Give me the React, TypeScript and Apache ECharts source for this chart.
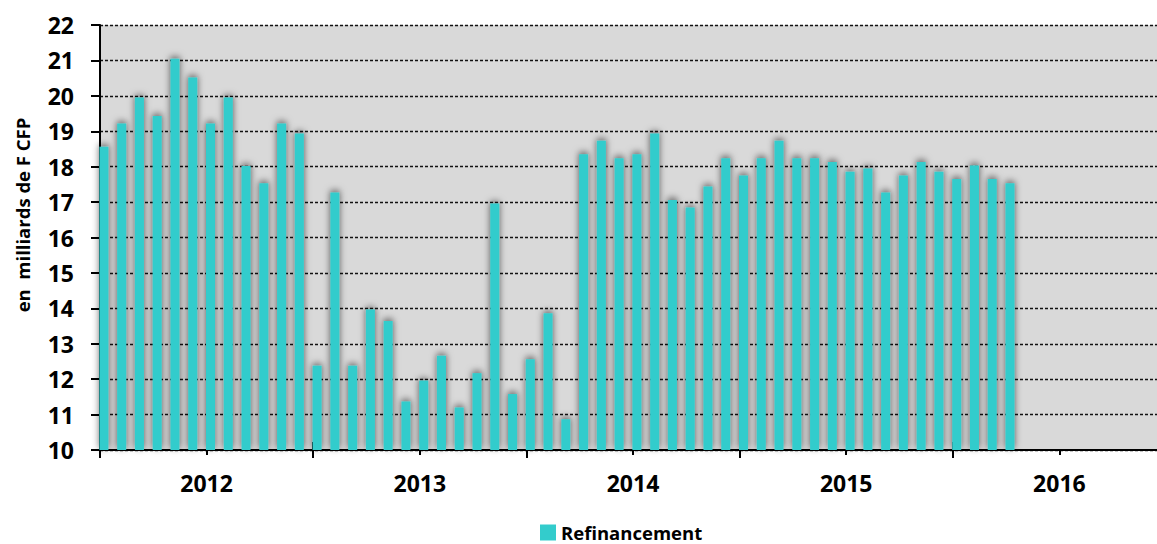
import React, { useEffect, useRef } from "react";
import * as echarts from "echarts";

const years = ["2012", "2013", "2014", "2015", "2016"];
const yTicks = { min: 10, max: 22, interval: 1 };
const seriesName = "Refinancement";
const yAxisTitle = "en  milliards de F CFP";

const refin2012 = [18.56, 19.22, 19.95, 19.43, 21.05, 20.52, 19.22, 19.95, 18.02, 17.53, 19.22, 18.94];
const refin2013 = [12.38, 17.27, 12.38, 13.97, 13.64, 11.37, 11.96, 12.66, 11.2, 12.17, 16.96, 11.58];
const refin2014 = [12.56, 13.86, 10.87, 18.35, 18.73, 18.24, 18.35, 18.94, 17.06, 16.85, 17.44, 18.24];
const refin2015 = [17.75, 18.24, 18.73, 18.24, 18.24, 18.13, 17.86, 17.95, 17.27, 17.75, 18.13, 17.86];
const refin2016 = [17.65, 18.03, 17.65, 17.53];

const FONT = "'Open Sans', 'DejaVu Sans', sans-serif";

export default function App() {
  const ref = useRef<HTMLDivElement>(null);
  useEffect(() => {
    document.body.style.margin = "0";
    document.body.style.overflow = "hidden";
    if (!ref.current) return;
    const chart = echarts.init(ref.current, null, { renderer: "svg" });
    const all = [...refin2012, ...refin2013, ...refin2014, ...refin2015, ...refin2016];
    const monthsTotal = years.length * 12;
    const barData = all.map((v, i) => [i + 0.22, v]);
    const hiddenVal = {
      type: "value" as const,
      min: 0,
      max: monthsTotal,
      position: "bottom" as const,
      axisLabel: { show: false },
      splitLine: { show: false },
    };
    chart.setOption({
      animation: false,
      grid: {
        left: 100,
        right: 0,
        top: 25,
        bottom: 94,
        show: true,
        backgroundColor: "#d9d9d9",
        borderWidth: 0,
      },
      legend: {
        data: [seriesName],
        left: 540,
        top: 523,
        padding: 0,
        itemWidth: 16,
        itemHeight: 16,
        icon: "rect",
        textStyle: { fontFamily: FONT, fontWeight: "bold", fontSize: 18.5, lineHeight: 18, color: "#000" },
      },
      xAxis: [
        {
          ...hiddenVal,
          interval: 6,
          axisLine: { show: true, lineStyle: { color: "#000", width: 2 } },
          axisTick: { show: true, length: 5, lineStyle: { color: "#000", width: 2 } },
        },
        {
          ...hiddenVal,
          interval: 12,
          axisLine: { show: false },
          axisTick: { show: true, length: 8, lineStyle: { color: "#000", width: 2 } },
        },
        {
          ...hiddenVal,
          interval: 12,
          axisLine: { show: false },
          axisTick: { show: true, inside: true, length: 8, lineStyle: { color: "#000", width: 2 } },
        },
        {
          type: "category",
          data: years,
          position: "bottom",
          boundaryGap: true,
          axisLine: { show: false },
          axisTick: { show: false },
          axisLabel: {
            fontFamily: FONT,
            fontWeight: "bold",
            fontSize: 23,
            color: "#000",
            margin: 21,
          },
        },
      ],
      yAxis: {
        type: "value",
        min: yTicks.min,
        max: yTicks.max,
        interval: yTicks.interval,
        axisLine: { show: true, lineStyle: { color: "#000", width: 2 } },
        axisTick: { show: true, length: 9, lineStyle: { color: "#000", width: 2 } },
        axisLabel: {
          fontFamily: FONT,
          fontWeight: "bold",
          fontSize: 23,
          color: "#000",
          margin: 26,
        },
        splitLine: { show: true, lineStyle: { color: "#111", width: 1.3, type: [3, 2] } },
      },
      graphic: [
        {
          type: "text",
          x: 22,
          y: 215,
          rotation: Math.PI / 2,
          style: {
            text: yAxisTitle,
            fill: "#000",
            font: `bold 18.5px ${FONT}`,
            align: "center",
            verticalAlign: "middle",
          },
        },
      ],
      series: [
        {
          name: seriesName,
          type: "bar",
          xAxisIndex: 0,
          barWidth: 9,
          data: barData,
          itemStyle: {
            color: "#33cccc",
            shadowColor: "rgba(0,0,0,0.6)",
            shadowBlur: 7,
            shadowOffsetY: -2,
          },
        },
      ],
    });
    return () => chart.dispose();
  }, []);
  return (
    <div style={{ width: 1157, height: 544, overflow: "hidden", position: "relative" }}>
      <div ref={ref} style={{ width: 1165.5, height: 544 }} />
    </div>
  );
}
